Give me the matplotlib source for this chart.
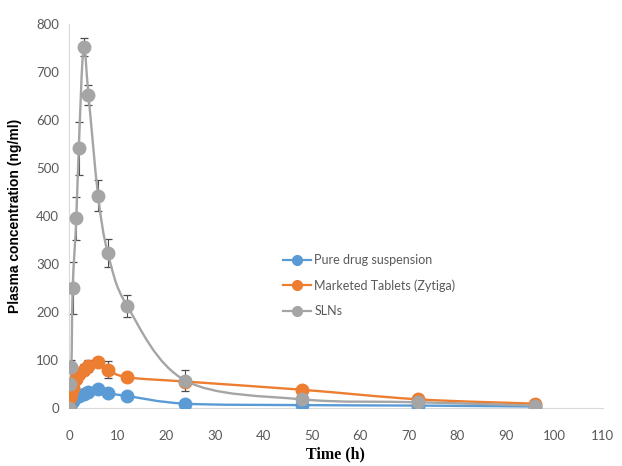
import numpy as np
import matplotlib
matplotlib.use("Agg")
import matplotlib.pyplot as plt
from matplotlib.path import Path
from matplotlib.patches import PathPatch

# sampling times (h)
time_h = [0, 0.25, 0.5, 0.75, 1.5, 2, 3, 4, 6, 8, 12, 24, 48, 72, 96]

pure_drug = [0, 5, 10, 15, 22, 25, 30, 34, 40, 31, 25, 9, 6, 5, 3]
tablets   = [0, 20, 30, 41, 60, 70, 80, 88, 96, 80, 64, 55, 38, 18, 9]
slns      = [0, 50, 86, 250, 395, 541, 752, 652, 442, 323, 212, 57, 18, 12, 5]

tablets_err = [0, 0, 0, 0, 0, 0, 12, 12, 0, 18, 0, 0, 0, 0, 0]
slns_err    = [0, 0, 14, 55, 44, 55, 18, 20, 32, 30, 23, 22, 0, 0, 0]

labels = ["Pure drug suspension", "Marketed Tablets (Zytiga)", "SLNs"]
colors = ["#5B9BD5", "#ED7D31", "#A5A5A5"]

TICK_C = "#595959"


def smooth_path(x, y):
    """Excel-like smoothed line: cubic Bezier segments (Catmull-Rom style)."""
    p = np.column_stack([x, y]).astype(float)
    n = len(p)
    verts = [p[0]]
    codes = [Path.MOVETO]
    for i in range(n - 1):
        p0 = p[i - 1] if i > 0 else p[i]
        p1, p2 = p[i], p[i + 1]
        p3 = p[i + 2] if i + 2 < n else p[i + 1]
        c1 = p1 + (p2 - p0) / 6.0
        c2 = p2 - (p3 - p1) / 6.0
        verts += [c1, c2, p2]
        codes += [Path.CURVE4] * 3
    return Path(verts, codes)


fig = plt.figure(figsize=(6.22, 4.66), dpi=100)
ax = fig.add_axes([0.111, 0.1245, 0.858, 0.824])

series = [(pure_drug, None), (tablets, tablets_err), (slns, slns_err)]
for (vals, err), lab, col in zip(series, labels, colors):
    if err is not None:
        ax.errorbar(time_h, vals, yerr=err, fmt="none", ecolor="#4D4D4D",
                    elinewidth=0.8, capsize=3, capthick=0.9, zorder=1)
    ax.add_patch(PathPatch(smooth_path(time_h, vals), facecolor="none",
                           edgecolor=col, lw=1.7, zorder=2))
    ax.plot(time_h, vals, ls="none", color=col, marker="o",
            markersize=9, markeredgecolor=col, zorder=4)

# legend handles with line + marker
leg_handles = [plt.Line2D([], [], color=c, lw=1.6, marker="o", markersize=7)
               for c in colors]
leg = ax.legend(leg_handles, labels, loc="upper left",
                bbox_to_anchor=(0.38, 0.43), frameon=False,
                labelspacing=1.05, handlelength=2.2,
                handletextpad=0.3, prop={"family": "Lato", "size": 9})
for t in leg.get_texts():
    t.set_color(TICK_C)

ax.set_xlim(0, 110)
ax.set_ylim(0, 800)
ax.set_xticks(np.arange(0, 111, 10))
ax.set_yticks(np.arange(0, 801, 100))
ax.tick_params(length=0, labelsize=9.5, labelcolor=TICK_C)
ax.tick_params(axis="x", pad=16)
ax.tick_params(axis="y", pad=7)
for lab in ax.get_xticklabels() + ax.get_yticklabels():
    lab.set_family("Lato")

for s in ["top", "right"]:
    ax.spines[s].set_visible(False)
ax.spines["left"].set_color("#D9D9D9")
ax.spines["bottom"].set_color("#D9D9D9")

ax.set_ylabel("Plasma concentration (ng/ml)", fontsize=10, fontweight="bold",
              family="Liberation Sans", labelpad=10)
ax.set_xlabel("Time (h)", fontsize=11.5, fontweight="bold",
              family="Liberation Serif", va="center")
ax.xaxis.set_label_coords(0.5, -0.122)

fig.savefig("out.png", dpi=100)
